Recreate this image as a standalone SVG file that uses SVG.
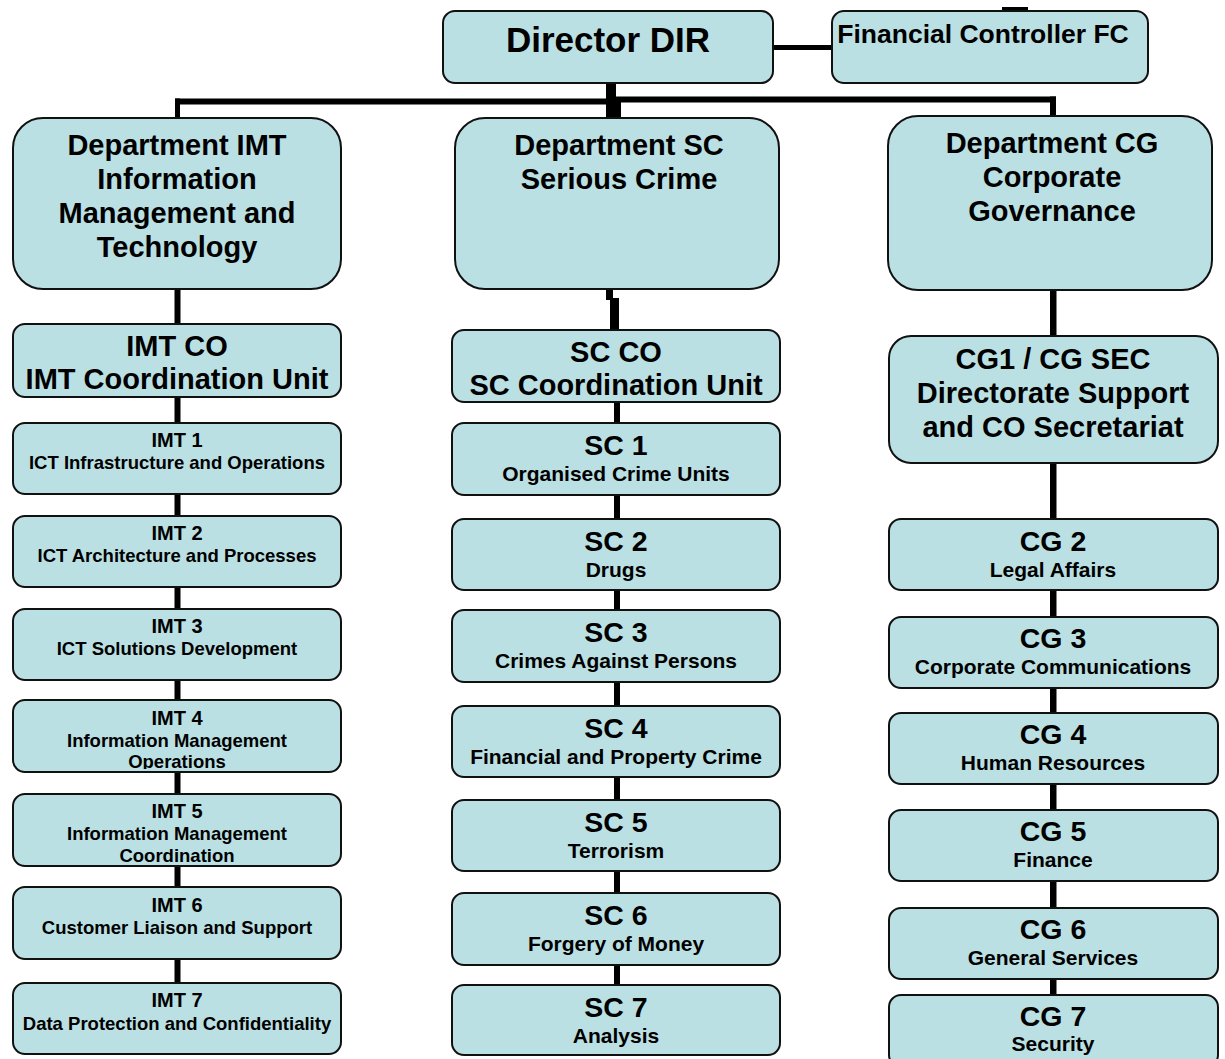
<svg xmlns="http://www.w3.org/2000/svg" width="1225" height="1059" viewBox="0 0 1225 1059">
<style>
  .box { fill: #bae0e3; stroke: #111; stroke-width: 2; }
  text { font-family: "Liberation Sans", Arial, sans-serif; font-weight: bold; fill: #000; text-anchor: middle; }
  .big { font-size: 29px; }
  .hd { font-size: 28.5px; }
  .sub { font-size: 21px; }
  .ihd { font-size: 20px; }
  .isub { font-size: 18.5px; }
  .conn { fill: #000; }
</style>
<defs>
  <clipPath id="clip4"><rect x="13" y="700" width="328" height="69"/></clipPath>
  <clipPath id="clip5"><rect x="13" y="794" width="328" height="69"/></clipPath>
</defs>
<rect width="1225" height="1059" fill="#fff"/>

<g id="connectors" class="conn">
  <rect x="1002" y="7" width="26" height="4"/>
  <rect x="773" y="45" width="60" height="5"/>
  <rect x="606" y="83" width="10" height="35"/>
  <rect x="614" y="99" width="7" height="19"/>
  <rect x="175" y="98.5" width="437" height="6"/>
  <rect x="612" y="96.5" width="444" height="6"/>
  <rect x="175" y="98.5" width="5" height="20"/>
  <rect x="1050" y="96.5" width="6" height="20"/>
  <rect x="174.5" y="289" width="6" height="695"/>
  <rect x="606" y="288" width="7" height="12"/>
  <rect x="610" y="298" width="9" height="33"/>
  <rect x="614" y="401" width="6" height="585"/>
  <rect x="1050" y="289" width="6.5" height="707"/>
</g>

<g id="dir">
  <rect class="box" x="443" y="11" width="330" height="72" rx="12"/>
  <text x="608" y="52" style="font-size:35px">Director DIR</text>
</g>
<g id="fc">
  <rect class="box" x="832" y="11" width="316" height="72" rx="12"/>
  <text x="983" y="43" style="font-size:26.5px">Financial Controller FC</text>
</g>

<g id="dept-imt">
  <rect class="box" x="13" y="118" width="328" height="171" rx="30"/>
  <text class="big" x="177" y="155">Department IMT</text>
  <text class="big" x="177" y="189">Information</text>
  <text class="big" x="177" y="223">Management and</text>
  <text class="big" x="177" y="257">Technology</text>
</g>
<g id="dept-sc">
  <rect class="box" x="455" y="118" width="324" height="171" rx="30"/>
  <text class="big" x="619" y="155">Department SC</text>
  <text class="big" x="619" y="189">Serious Crime</text>
</g>
<g id="dept-cg">
  <rect class="box" x="888" y="116" width="324" height="174" rx="30"/>
  <text class="big" x="1052" y="153">Department CG</text>
  <text class="big" x="1052" y="187">Corporate</text>
  <text class="big" x="1052" y="221">Governance</text>
</g>

<g id="imt-co">
  <rect class="box" x="13" y="324" width="328" height="73" rx="12"/>
  <text class="big" x="177" y="356">IMT CO</text>
  <text class="big" x="177" y="389">IMT Coordination Unit</text>
</g>
<g id="imt1">
  <rect class="box" x="13" y="423" width="328" height="71" rx="12"/>
  <text class="ihd" x="177" y="447">IMT 1</text>
  <text class="isub" x="177" y="469">ICT Infrastructure and Operations</text>
</g>
<g id="imt2">
  <rect class="box" x="13" y="516" width="328" height="71" rx="12"/>
  <text class="ihd" x="177" y="540">IMT 2</text>
  <text class="isub" x="177" y="562">ICT Architecture and Processes</text>
</g>
<g id="imt3">
  <rect class="box" x="13" y="609" width="328" height="71" rx="12"/>
  <text class="ihd" x="177" y="633">IMT 3</text>
  <text class="isub" x="177" y="655">ICT Solutions Development</text>
</g>
<g id="imt4">
  <rect class="box" x="13" y="700" width="328" height="72" rx="12"/>
  <g clip-path="url(#clip4)">
    <text class="ihd" x="177" y="725">IMT 4</text>
    <text class="isub" x="177" y="747">Information Management</text>
    <text class="isub" x="177" y="768">Operations</text>
  </g>
</g>
<g id="imt5">
  <rect class="box" x="13" y="794" width="328" height="72" rx="12"/>
  <g clip-path="url(#clip5)">
    <text class="ihd" x="177" y="818">IMT 5</text>
    <text class="isub" x="177" y="840">Information Management</text>
    <text class="isub" x="177" y="862">Coordination</text>
  </g>
</g>
<g id="imt6">
  <rect class="box" x="13" y="887" width="328" height="72" rx="12"/>
  <text class="ihd" x="177" y="912">IMT 6</text>
  <text class="isub" x="177" y="934">Customer Liaison and Support</text>
</g>
<g id="imt7">
  <rect class="box" x="13" y="983" width="328" height="71" rx="12"/>
  <text class="ihd" x="177" y="1007">IMT 7</text>
  <text class="isub" x="177" y="1030">Data Protection and Confidentiality</text>
</g>

<g id="sc-co">
  <rect class="box" x="452" y="330" width="328" height="72" rx="12"/>
  <text class="big" x="616" y="362">SC CO</text>
  <text class="big" x="616" y="395">SC Coordination Unit</text>
</g>
<g id="sc1">
  <rect class="box" x="452" y="423" width="328" height="72" rx="12"/>
  <text class="hd" x="616" y="455">SC 1</text>
  <text class="sub" x="616" y="481">Organised Crime Units</text>
</g>
<g id="sc2">
  <rect class="box" x="452" y="519" width="328" height="71" rx="12"/>
  <text class="hd" x="616" y="551">SC 2</text>
  <text class="sub" x="616" y="577">Drugs</text>
</g>
<g id="sc3">
  <rect class="box" x="452" y="610" width="328" height="72" rx="12"/>
  <text class="hd" x="616" y="642">SC 3</text>
  <text class="sub" x="616" y="668">Crimes Against Persons</text>
</g>
<g id="sc4">
  <rect class="box" x="452" y="706" width="328" height="71" rx="12"/>
  <text class="hd" x="616" y="738">SC 4</text>
  <text class="sub" x="616" y="764">Financial and Property Crime</text>
</g>
<g id="sc5">
  <rect class="box" x="452" y="800" width="328" height="71" rx="12"/>
  <text class="hd" x="616" y="832">SC 5</text>
  <text class="sub" x="616" y="858">Terrorism</text>
</g>
<g id="sc6">
  <rect class="box" x="452" y="893" width="328" height="72" rx="12"/>
  <text class="hd" x="616" y="925">SC 6</text>
  <text class="sub" x="616" y="951">Forgery of Money</text>
</g>
<g id="sc7">
  <rect class="box" x="452" y="985" width="328" height="70" rx="12"/>
  <text class="hd" x="616" y="1017">SC 7</text>
  <text class="sub" x="616" y="1043">Analysis</text>
</g>

<g id="cg1">
  <rect class="box" x="889" y="336" width="329" height="127" rx="22"/>
  <text class="big" x="1053" y="369">CG1 / CG SEC</text>
  <text class="big" x="1053" y="403">Directorate Support</text>
  <text class="big" x="1053" y="437">and CO Secretariat</text>
</g>
<g id="cg2">
  <rect class="box" x="889" y="519" width="329" height="71" rx="12"/>
  <text class="hd" x="1053" y="551">CG 2</text>
  <text class="sub" x="1053" y="577">Legal Affairs</text>
</g>
<g id="cg3">
  <rect class="box" x="889" y="617" width="329" height="71" rx="12"/>
  <text class="hd" x="1053" y="648">CG 3</text>
  <text class="sub" x="1053" y="674">Corporate Communications</text>
</g>
<g id="cg4">
  <rect class="box" x="889" y="713" width="329" height="71" rx="12"/>
  <text class="hd" x="1053" y="744">CG 4</text>
  <text class="sub" x="1053" y="770">Human Resources</text>
</g>
<g id="cg5">
  <rect class="box" x="889" y="810" width="329" height="71" rx="12"/>
  <text class="hd" x="1053" y="841">CG 5</text>
  <text class="sub" x="1053" y="867">Finance</text>
</g>
<g id="cg6">
  <rect class="box" x="889" y="908" width="329" height="71" rx="12"/>
  <text class="hd" x="1053" y="939">CG 6</text>
  <text class="sub" x="1053" y="965">General Services</text>
</g>
<g id="cg7">
  <rect class="box" x="889" y="995" width="329" height="72" rx="12"/>
  <text class="hd" x="1053" y="1026">CG 7</text>
  <text class="sub" x="1053" y="1051">Security</text>
</g>
</svg>
